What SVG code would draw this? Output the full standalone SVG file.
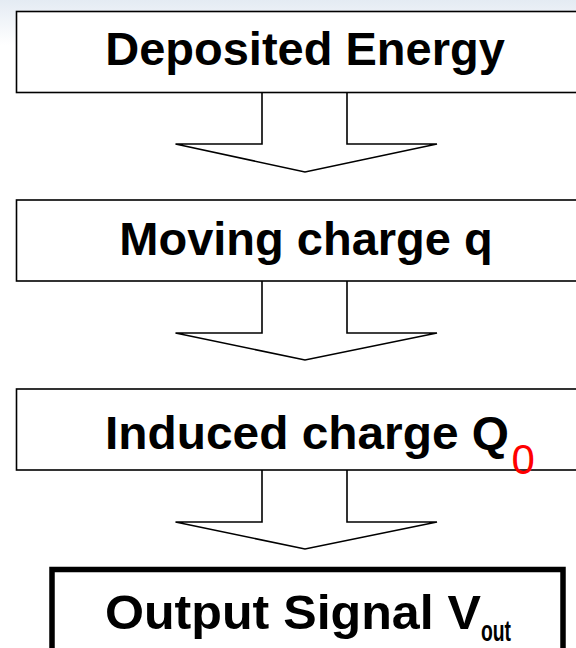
<svg xmlns="http://www.w3.org/2000/svg" width="576" height="648" viewBox="0 0 576 648">
  <defs>
    <linearGradient id="bg" x1="0" y1="0" x2="0" y2="1">
      <stop offset="0" stop-color="#e4ebf3"/>
      <stop offset="1" stop-color="#ffffff"/>
    </linearGradient>
    <style>
      .box { fill: #ffffff; stroke: #000000; stroke-width: 1.6; }
      .box-thick { fill: #ffffff; stroke: #000000; stroke-width: 5.5; }
      .arrow { fill: #ffffff; stroke: #000000; stroke-width: 1.6; stroke-linejoin: miter; }
      .label { font-family: "Liberation Sans", Arial, sans-serif; font-weight: bold; font-size: 47px; fill: #000000; }
      .sub-red { font-family: "Liberation Sans", Arial, sans-serif; font-weight: normal; font-size: 42px; fill: #ff0000; }
    </style>
  </defs>
  <rect x="0" y="0" width="576" height="648" fill="#ffffff"/>
  <rect x="0" y="0" width="576" height="45" fill="url(#bg)"/>

  <g id="connectors">
    <path class="arrow" d="M262,93 V144 H175.5 L305,172 L437,144 H347 V93"/>
    <path class="arrow" d="M262,281 V333 H175.5 L305,360 L437,333 H347 V281"/>
    <path class="arrow" d="M262,470 V522 H175.5 L305,549 L437,522 H347 V470"/>
  </g>

  <g id="node-deposited-energy">
    <rect class="box" x="16.5" y="11.5" width="600" height="81"/>
    <text class="label" x="305" y="64.5" text-anchor="middle">Deposited Energy</text>
  </g>

  <g id="node-moving-charge">
    <rect class="box" x="16.5" y="200" width="600" height="81"/>
    <text class="label" x="306" y="254.5" text-anchor="middle">Moving charge q</text>
  </g>

  <g id="node-induced-charge">
    <rect class="box" x="16.5" y="389" width="600" height="81"/>
    <text class="label" x="105" y="448.5" textLength="404" lengthAdjust="spacingAndGlyphs">Induced charge Q</text>
    <text class="sub-red" x="511.5" y="473.5">0</text>
  </g>

  <g id="node-output-signal">
    <rect class="box-thick" x="52" y="569.5" width="511" height="110"/>
    <text class="label" x="105" y="628.5" style="font-size:49px" textLength="376" lengthAdjust="spacingAndGlyphs">Output Signal V</text>
    <text class="label" x="481" y="641" style="font-size:30px" textLength="30" lengthAdjust="spacingAndGlyphs">out</text>
  </g>
</svg>
